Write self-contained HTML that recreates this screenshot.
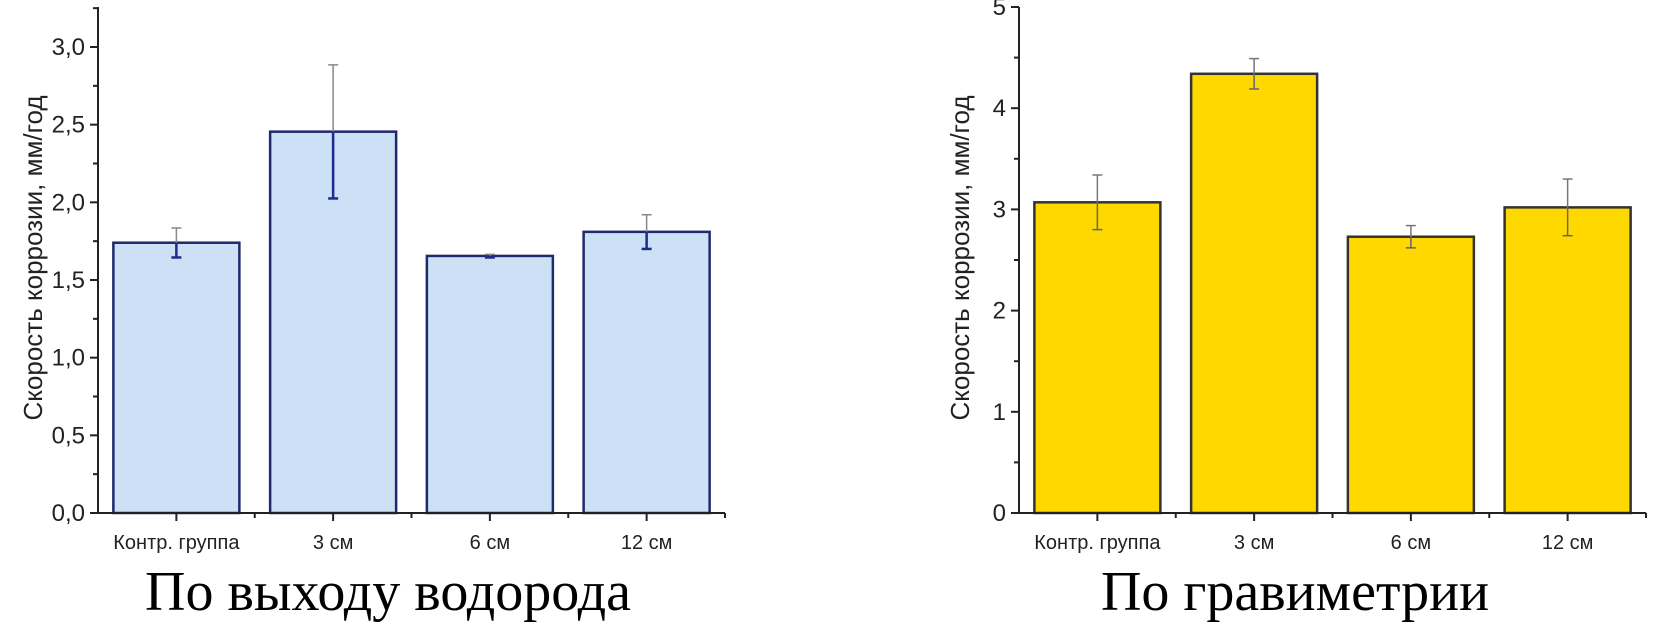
<!DOCTYPE html>
<html><head><meta charset="utf-8">
<style>
html,body{margin:0;padding:0;background:#fff;}
svg{display:block;font-family:"Liberation Sans",sans-serif;}
.ttl{font-family:"Liberation Serif",serif;}
</style></head>
<body>
<svg id="chart" width="1654" height="630" viewBox="0 0 1654 630"></svg>
<script>
const categories = ["Контр. группа","3 см","6 см","12 см"];
const h2Values = [1.74,2.455,1.655,1.81];
const h2Errors = [0.095,0.43,0.01,0.11];
const h2Ticks = [0,0.5,1.0,1.5,2.0,2.5,3.0];
const h2TickLabels = ["0,0","0,5","1,0","1,5","2,0","2,5","3,0"];
const gravValues = [3.07,4.34,2.73,3.02];
const gravErrors = [0.27,0.15,0.11,0.28];
const gravTicks = [0,1,2,3,4,5];
const gravTickLabels = ["0","1","2","3","4","5"];

const svg = document.getElementById('chart');
const NS = 'http://www.w3.org/2000/svg';
function mk(tag, attrs, parent){
  const e = document.createElementNS(NS, tag);
  for (const k in attrs) e.setAttribute(k, attrs[k]);
  (parent||svg).appendChild(e);
  return e;
}

function drawPanel(cfg){
  const g = mk('g', {});
  
  
  const y = v => cfg.y0 - v * (cfg.y0 - cfg.yRefPx) / cfg.yRefVal;
  const n = categories.length;
  const step = (cfg.xEnd - cfg.ax) / n;
  const xc = i => cfg.ax + step * (i + 0.5);
  cfg.values.forEach((v, i) => {
    const r = mk('rect', {x: xc(i) - cfg.bw/2, y: y(v), width: cfg.bw, height: cfg.y0 - y(v), fill: cfg.fill, stroke: cfg.stroke, 'stroke-width': 2.5}, g);
    
    
    const e = cfg.errors[i];
    const eg = mk('g', {}, g);
    
    
    mk('line', {x1: xc(i), x2: xc(i), y1: y(v + e), y2: y(v), stroke: cfg.errUp, 'stroke-width': 1.5}, eg);
    mk('line', {x1: xc(i) - 5, x2: xc(i) + 5, y1: y(v + e), y2: y(v + e), stroke: cfg.errUp, 'stroke-width': 1.5}, eg);
    mk('line', {x1: xc(i), x2: xc(i), y1: y(v), y2: y(v - e), stroke: cfg.errDown, 'stroke-width': cfg.errDownW}, eg);
    mk('line', {x1: xc(i) - 5, x2: xc(i) + 5, y1: y(v - e), y2: y(v - e), stroke: cfg.errDown, 'stroke-width': cfg.errDownW}, eg);
    const t = mk('text', {x: xc(i), y: cfg.y0 + 36, 'text-anchor': 'middle', 'font-size': 20, fill: '#222'}, g);
    t.textContent = categories[i];
    
    
  });
  mk('line', {x1: cfg.ax, x2: cfg.ax, y1: cfg.axTop, y2: cfg.y0, stroke: '#222', 'stroke-width': 2}, g);
  mk('line', {x1: cfg.ax - 7, x2: cfg.xEnd, y1: cfg.y0, y2: cfg.y0, stroke: '#222', 'stroke-width': 2}, g);
  mk('line', {x1: cfg.xEnd, x2: cfg.xEnd, y1: cfg.y0, y2: cfg.y0 + 5, stroke: '#222', 'stroke-width': 2}, g);
  cfg.ticks.forEach((v, i) => {
    mk('line', {x1: cfg.ax - 8, x2: cfg.ax, y1: y(v), y2: y(v), stroke: '#222', 'stroke-width': 2}, g);
    const t = mk('text', {x: cfg.ax - 13, y: y(v) + 8, 'text-anchor': 'end', 'font-size': 24, fill: '#222'}, g);
    t.textContent = cfg.tickLabels[i];
    
    
    const mv = v + (cfg.ticks[1] - cfg.ticks[0]) / 2;
    if (y(mv) > cfg.axTop) mk('line', {x1: cfg.ax - 5, x2: cfg.ax, y1: y(mv), y2: y(mv), stroke: '#222', 'stroke-width': 2}, g);
  });
  for (let i = 0; i < n; i++) {
    mk('line', {x1: xc(i), x2: xc(i), y1: cfg.y0, y2: cfg.y0 + 8, stroke: '#222', 'stroke-width': 2}, g);
    if (i > 0) mk('line', {x1: cfg.ax + step * i, x2: cfg.ax + step * i, y1: cfg.y0, y2: cfg.y0 + 5, stroke: '#222', 'stroke-width': 2}, g);
  }
  const yt = mk('text', {x: cfg.ytX, y: 258, 'text-anchor': 'middle', 'font-size': 26, fill: '#222', transform: 'rotate(-90 ' + cfg.ytX + ' 258)'}, g);
  yt.textContent = 'Скорость коррозии, мм/год';
  
  
  const tt = mk('text', {x: cfg.titleX, y: 610, 'text-anchor': 'middle', 'font-size': 56, fill: '#000', class: 'ttl'}, g);
  tt.textContent = cfg.title;
  
  
}

drawPanel({name: 'hydrogen-chart', values: h2Values, errors: h2Errors, ticks: h2Ticks, tickLabels: h2TickLabels,
  ax: 98, xEnd: 725, y0: 513, yRefPx: 47, yRefVal: 3.0, axTop: 7, bw: 126,
  fill: '#cce1f5', stroke: '#1f2a6e', errUp: '#888', errDown: '#1f2a8e', errDownW: 2.5, ytX: 42, titleX: 388, title: 'По выходу водорода'});
drawPanel({name: 'gravimetry-chart', values: gravValues, errors: gravErrors, ticks: gravTicks, tickLabels: gravTickLabels,
  ax: 1019, xEnd: 1646, y0: 513, yRefPx: 7, yRefVal: 5, axTop: 7, bw: 126,
  fill: '#ffd800', stroke: '#333', errUp: '#777', errDown: '#666', errDownW: 1.5, ytX: 969, titleX: 1295, title: 'По гравиметрии'});
</script>
</body></html>
